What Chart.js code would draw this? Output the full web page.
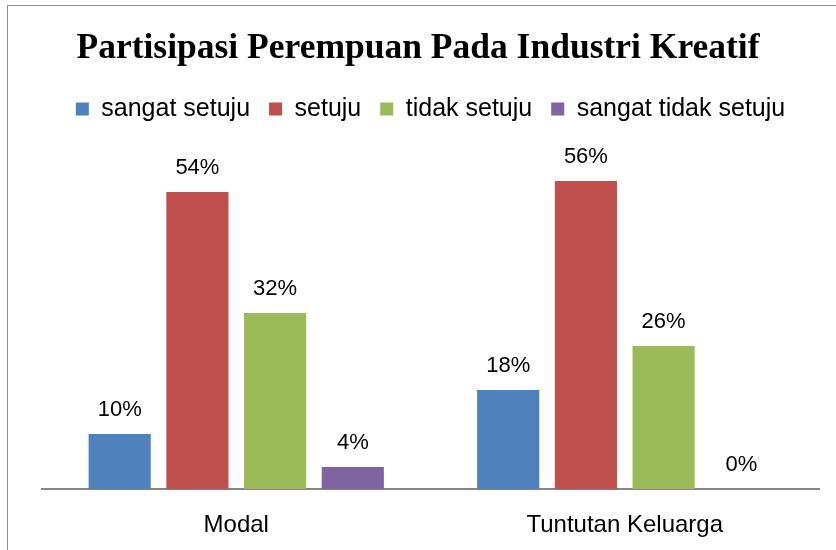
<!DOCTYPE html>
<html>
<head>
<meta charset="utf-8">
<script src="https://cdn.jsdelivr.net/npm/chart.js@4"></script>
<style>
  html, body { margin: 0; padding: 0; background: #fff; }
  #wrap { position: relative; width: 836px; height: 550px; overflow: hidden; }
  #frame { position: absolute; left: 7px; top: 5px; width: 900px; height: 600px; border: 1px solid #8c8c8c; }
  canvas { position: absolute; left: 0; top: 0; }
</style>
</head>
<body>
<div id="wrap">
  <div id="frame"></div>
  <canvas id="c" width="836" height="550"></canvas>
</div>
<script>
const chartTitle = 'Partisipasi Perempuan Pada Industri Kreatif';
const categories = ['Modal', 'Tuntutan Keluarga'];
const seriesNames = ['sangat setuju', 'setuju', 'tidak setuju', 'sangat tidak setuju'];
const sangatSetuju = [10, 18];
const setuju = [54, 56];
const tidakSetuju = [32, 26];
const sangatTidakSetuju = [4, 0];
const seriesColors = ['#4F81BD', '#C0504D', '#9BBB59', '#8064A2'];

const seriesValues = [sangatSetuju, setuju, tidakSetuju, sangatTidakSetuju];

Chart.defaults.color = '#000';
Chart.defaults.font.family = '"Liberation Sans", Arial, sans-serif';

const valueLabels = {
  id: 'valueLabels',
  afterDatasetsDraw(chart) {
    const ctx = chart.ctx;
    ctx.save();
    ctx.font = '22px "Liberation Sans", Arial, sans-serif';
    ctx.fillStyle = '#000';
    ctx.textAlign = 'center';
    ctx.textBaseline = 'alphabetic';
    chart.data.datasets.forEach((ds, i) => {
      chart.getDatasetMeta(i).data.forEach((bar, j) => {
        ctx.fillText(ds.data[j] + '%', bar.x, bar.y - 18);
      });
    });
    ctx.restore();
  }
};

new Chart(document.getElementById('c'), {
  type: 'bar',
  data: {
    labels: categories,
    datasets: seriesNames.map((name, i) => ({
      label: name,
      data: seriesValues[i],
      backgroundColor: seriesColors[i],
      borderWidth: 0,
      barPercentage: 0.8,
      categoryPercentage: 0.8
    }))
  },
  options: {
    responsive: false,
    animation: false,
    layout: { padding: { top: 2, bottom: 0, left: 0, right: 0 } },
    plugins: {
      title: {
        display: true,
        text: chartTitle,
        font: { family: '"Liberation Serif", "Times New Roman", serif', size: 35.5, weight: 'bold', lineHeight: 1.2 },
        color: '#000',
        padding: { top: 26, bottom: 7 }
      },
      legend: {
        display: true,
        fullSize: false,
        labels: {
          boxWidth: 13,
          boxHeight: 13,
          padding: 19,
          font: { size: 25 },
          color: '#000'
        }
      },
      tooltip: { enabled: false }
    },
    scales: {
      x: {
        grid: { display: false, drawTicks: false },
        border: { display: true, color: '#868686', width: 2 },
        ticks: { font: { size: 24 }, color: '#000', padding: 22 },
        afterFit: s => { s.height = 61; }
      },
      y: {
        min: 0,
        max: 65,
        grid: { display: false },
        border: { display: false },
        ticks: { display: false },
        afterFit: s => { s.width = 42; }
      },
      yR: {
        position: 'right',
        min: 0,
        max: 65,
        grid: { display: false },
        border: { display: false },
        ticks: { display: false },
        afterFit: s => { s.width = 17; }
      }
    }
  },
  plugins: [valueLabels]
});
</script>
</body>
</html>
